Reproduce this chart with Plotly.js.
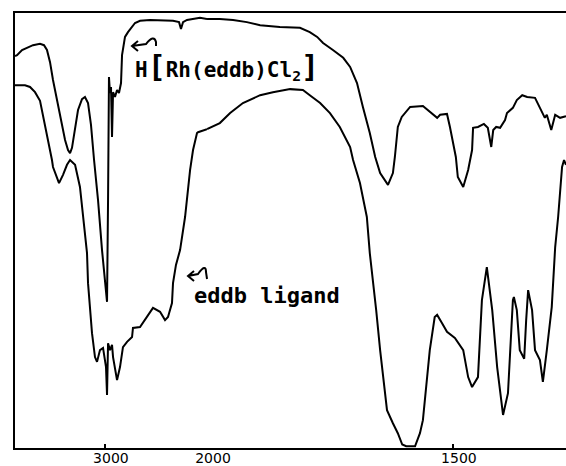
<!DOCTYPE html>
<html>
<head>
<meta charset="utf-8">
<script src="https://cdn.plot.ly/plotly-3.0.1.min.js"></script>
<style>html,body{margin:0;padding:0;background:#fff;}#chart{width:566px;height:466px;}</style>
</head>
<body>
<div id="chart"></div>
<script>
// Wavenumber (cm-1) and relative transmittance (%)
// H[Rh(eddb)Cl2] complex, 3880-2000 cm-1 region
const rhWaveHigh = [3880,3860,3811,3753,3704,3635,3596,3567,3537,3508,3469,3430,3390,3361,3341,3322,3292,3263,3224,3195,3165,3136,3106,3067,3028,2999,2979,2969,2964,2960,2950,2940,2930,2920,2901,2881,2862,2842,2832,2803,2774,2734,2705,2656,2558,2333,2284,2274,2255,2235,2196,2069,2000];
const rhTHigh    = [90.1,90.3,91.5,92.0,92.6,92.9,92.6,91.5,88.7,84.6,80.0,75.4,70.8,68.5,67.8,69.0,73.1,77.7,80.2,80.7,79.3,74.3,66.2,57.0,45.5,38.6,33.6,57.0,75.4,85.3,81.6,83.0,71.5,81.8,80.7,82.3,81.6,83.9,90.3,94.5,95.6,96.8,97.7,98.2,98.4,98.2,97.9,97.9,96.3,97.9,98.4,98.9,98.6];
// H[Rh(eddb)Cl2] complex, 2000-1270 cm-1 region
const rhWaveLow = [2000,1974,1947,1919,1892,1852,1811,1791,1776,1764,1744,1723,1709,1695,1683,1669,1658,1648,1632,1622,1618,1612,1604,1587,1561,1547,1532,1526,1512,1506,1500,1494,1490,1479,1469,1461,1459,1449,1437,1429,1422,1418,1412,1404,1394,1390,1378,1370,1359,1349,1333,1323,1313,1309,1300,1292,1282,1270];
const rhTLow    = [98.6,98.6,98.4,97.9,97.2,96.8,96.6,95.6,94.5,93.1,91.5,89.7,87.6,83.9,78.4,72.4,66.9,63.2,60.5,63.2,66.9,73.8,76.1,78.4,78.6,77.2,75.9,76.6,76.8,73.8,70.1,66.9,62.3,60.0,63.9,68.5,73.6,73.8,74.5,73.6,69.2,73.1,73.8,73.6,75.4,77.0,78.2,80.0,81.1,80.7,80.5,78.2,75.9,76.6,73.1,76.6,75.9,76.3];

// eddb ligand, 3880-2000 cm-1 region
const ligWaveHigh = [3880,3782,3733,3684,3635,3596,3557,3518,3508,3469,3449,3410,3371,3341,3292,3244,3214,3175,3165,3146,3126,3097,3077,3048,3018,2989,2979,2969,2950,2930,2920,2881,2852,2823,2783,2734,2725,2656,2587,2529,2460,2411,2382,2343,2333,2304,2264,2215,2166,2137,2098,2088,2000];
const ligTHigh    = [83.4,83.4,83.0,81.8,79.8,75.4,70.8,66.2,64.6,62.1,60.9,62.8,65.1,66.2,65.1,60.0,53.1,44.8,37.9,32.9,26.4,20.9,19.8,22.5,23.0,18.6,12.2,24.1,22.5,23.7,20.9,15.6,18.6,23.2,24.4,25.5,27.6,27.8,30.1,32.2,31.3,29.4,30.1,33.3,37.9,42.1,45.5,53.1,63.9,68.5,72.4,72.6,73.3];
// eddb ligand, 2000-1270 cm-1 region
const ligWaveLow = [2000,1994,1974,1953,1927,1892,1866,1831,1805,1791,1770,1750,1730,1709,1703,1689,1675,1669,1662,1656,1648,1634,1622,1612,1603,1595,1577,1567,1561,1553,1547,1537,1532,1522,1512,1496,1479,1469,1461,1449,1441,1431,1425,1420,1410,1398,1388,1378,1376,1370,1364,1355,1351,1347,1339,1333,1323,1317,1309,1299,1292,1286,1278,1274,1270];
const ligTLow    = [73.3,73.6,74.7,77.0,79.3,81.1,81.8,82.5,82.3,81.1,79.3,77.0,73.8,69.2,66.2,60.9,53.1,44.8,37.9,31.7,22.5,8.7,5.7,3.4,0.8,0.4,0.4,3.4,6.4,14.9,22.5,30.1,30.6,28.7,26.7,25.3,22.5,16.3,14.0,16.3,34.0,41.6,36.3,31.7,18.6,7.6,12.6,34.0,34.7,31.7,22.5,20.5,29.4,36.3,31.7,22.5,20.2,15.2,22.5,32.4,46.2,53.1,64.6,66.2,65.1];

// Axis tick labels
const tickHigh = [3000];
const tickHighText = ['3000'];
const tickLow = [2000, 1500];
const tickLowText = ['2000', '1500'];

const lineStyle = {color: '#000', width: 2};
const traces = [
  {x: rhWaveHigh, y: rhTHigh, xaxis: 'x', yaxis: 'y', mode: 'lines', line: lineStyle, hoverinfo: 'skip'},
  {x: rhWaveLow, y: rhTLow, xaxis: 'x2', yaxis: 'y', mode: 'lines', line: lineStyle, hoverinfo: 'skip'},
  {x: ligWaveHigh, y: ligTHigh, xaxis: 'x', yaxis: 'y', mode: 'lines', line: lineStyle, hoverinfo: 'skip'},
  {x: ligWaveLow, y: ligTLow, xaxis: 'x2', yaxis: 'y', mode: 'lines', line: lineStyle, hoverinfo: 'skip'}
];

const split = 0.3485;
const axisCommon = {
  showline: true, linecolor: '#000', linewidth: 2, mirror: true,
  showgrid: false, zeroline: false,
  ticks: 'inside', ticklen: 4, tickwidth: 1.5, tickcolor: '#000',
  tickfont: {family: 'DejaVu Sans', size: 14, color: '#000'},
  ticklabelstandoff: -4, ticklabelshift: -6, fixedrange: true
};

// helpers converting picture pixels to paper fractions for the hand-drawn arrows
const L = 15, T = 13, W = 551, H = 435;
const px = v => ((v - L) / W).toFixed(4);
const py = v => ((T + H - v) / H).toFixed(4);
function hookArrow(pts) {
  const [tip, b1, b2, a, c, e, f] = pts;
  return 'M' + px(b1[0]) + ',' + py(b1[1]) + ' L' + px(tip[0]) + ',' + py(tip[1]) + ' L' + px(b2[0]) + ',' + py(b2[1]) +
         ' M' + px(tip[0]) + ',' + py(tip[1]) + ' L' + px(a[0]) + ',' + py(a[1]) +
         ' Q' + px(c[0]) + ',' + py(c[1]) + ' ' + px(e[0]) + ',' + py(e[1]) +
         ' L' + px(f[0]) + ',' + py(f[1]);
}
const arrowRh = hookArrow([[132, 46], [138, 41], [138, 51], [146, 44], [154, 34], [156, 42], [156, 46]]);
const arrowLig = hookArrow([[188, 276], [194, 271], [194, 281], [198, 274], [206, 263], [206, 272], [207, 279]]);

const layout = {
  width: 566, height: 466,
  margin: {l: L, r: 0, t: T, b: 466 - T - H, pad: 0},
  paper_bgcolor: '#fff', plot_bgcolor: '#fff',
  showlegend: false,
  xaxis: Object.assign({}, axisCommon, {domain: [0, split], range: [3880, 2000], tickmode: 'array', tickvals: tickHigh, ticktext: tickHighText, anchor: 'y'}),
  xaxis2: Object.assign({}, axisCommon, {domain: [split, 1], range: [2000, 1270], tickmode: 'array', tickvals: tickLow, ticktext: tickLowText, anchor: 'y'}),
  yaxis: {range: [0, 100], showline: true, linecolor: '#000', linewidth: 2, showgrid: false, zeroline: false, showticklabels: false, ticks: '', fixedrange: true},
  shapes: [
    {type: 'path', xref: 'paper', yref: 'paper', path: arrowRh, line: {color: '#000', width: 2}},
    {type: 'path', xref: 'paper', yref: 'paper', path: arrowLig, line: {color: '#000', width: 2}}
  ],
  annotations: [
    {xref: 'paper', yref: 'paper', x: 0.214, y: 0.876, xanchor: 'left', yanchor: 'middle', showarrow: false,
     text: 'H<span style="font-size:30px">[</span>Rh(eddb)Cl<sub>2</sub><span style="font-size:30px">]</span>',
     font: {family: 'DejaVu Sans Mono', size: 21, color: '#000', weight: 'bold'}},
    {xref: 'paper', yref: 'paper', x: 0.321, y: 0.351, xanchor: 'left', yanchor: 'middle', showarrow: false,
     text: 'eddb ligand', font: {family: 'DejaVu Sans Mono', size: 22, color: '#000', weight: 'bold'}}
  ]
};

Plotly.newPlot('chart', traces, layout, {staticPlot: true, displayModeBar: false});
</script>
</body>
</html>
